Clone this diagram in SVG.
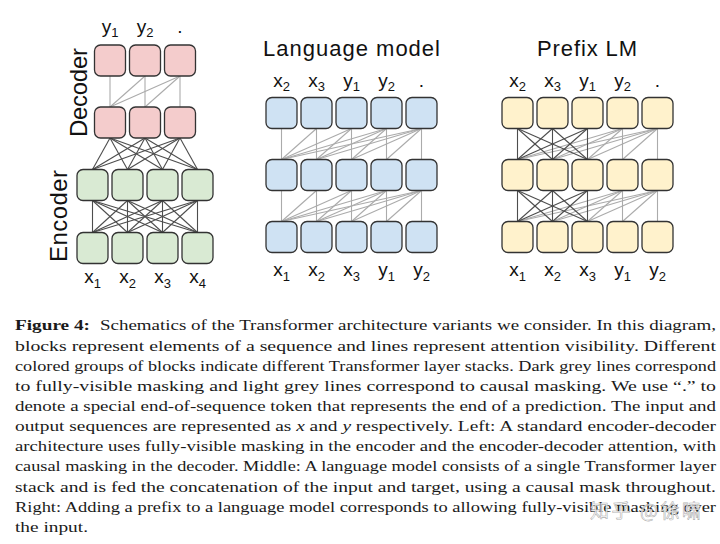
<svg xmlns="http://www.w3.org/2000/svg" width="720" height="544" viewBox="0 0 720 544">
<style>
  .bg{fill:#ffffff}
  .box{stroke:#333333;stroke-width:1.3}
  .dec{fill:#f4cccc}
  .enc{fill:#d9ead3}
  .lm{fill:#cfe2f3}
  .pre{fill:#fff2cc}
  .dk{stroke:#4d4d4d;stroke-width:1.1;fill:none}
  .lt{stroke:#ababab;stroke-width:1.1;fill:none}
  .lab{font-family:"Liberation Sans",Arial,sans-serif;font-size:19px;fill:#111111;text-anchor:middle}
  .sub{font-size:13px}
  .title{font-family:"Liberation Sans",Arial,sans-serif;font-size:22px;fill:#111111;text-anchor:middle}
  .cap{font-family:"Liberation Serif","Times New Roman",serif;font-size:15.5px;fill:#1a1a1a}
  .b{font-weight:bold}
  .i{font-style:italic}
  .wm{font-family:"Noto Sans CJK SC",sans-serif;font-size:19px;fill:#ffffff;fill-opacity:0.85;stroke:#8c8c8c;stroke-width:0.6;stroke-opacity:0.7}
</style>
<rect class="bg" x="0" y="0" width="720" height="544"/>

<g id="connectors">
  <!-- decoder causal self-attention -->
  <line class="lt" x1="110" y1="76" x2="110" y2="107"/>
  <line class="lt" x1="145" y1="76" x2="110" y2="107"/>
  <line class="lt" x1="145" y1="76" x2="145" y2="107"/>
  <line class="lt" x1="180" y1="76" x2="110" y2="107"/>
  <line class="lt" x1="180" y1="76" x2="145" y2="107"/>
  <line class="lt" x1="180" y1="76" x2="180" y2="107"/>
  <!-- encoder-decoder attention -->
  <line class="dk" x1="110" y1="138" x2="92.5" y2="169.5"/>
  <line class="dk" x1="110" y1="138" x2="127.5" y2="169.5"/>
  <line class="dk" x1="110" y1="138" x2="162.5" y2="169.5"/>
  <line class="dk" x1="110" y1="138" x2="197.5" y2="169.5"/>
  <line class="dk" x1="145" y1="138" x2="92.5" y2="169.5"/>
  <line class="dk" x1="145" y1="138" x2="127.5" y2="169.5"/>
  <line class="dk" x1="145" y1="138" x2="162.5" y2="169.5"/>
  <line class="dk" x1="145" y1="138" x2="197.5" y2="169.5"/>
  <line class="dk" x1="180" y1="138" x2="92.5" y2="169.5"/>
  <line class="dk" x1="180" y1="138" x2="127.5" y2="169.5"/>
  <line class="dk" x1="180" y1="138" x2="162.5" y2="169.5"/>
  <line class="dk" x1="180" y1="138" x2="197.5" y2="169.5"/>
  <!-- encoder fully-visible -->
  <line class="dk" x1="92.5" y1="200.5" x2="92.5" y2="232.5"/>
  <line class="dk" x1="92.5" y1="200.5" x2="127.5" y2="232.5"/>
  <line class="dk" x1="92.5" y1="200.5" x2="162.5" y2="232.5"/>
  <line class="dk" x1="92.5" y1="200.5" x2="197.5" y2="232.5"/>
  <line class="dk" x1="127.5" y1="200.5" x2="92.5" y2="232.5"/>
  <line class="dk" x1="127.5" y1="200.5" x2="127.5" y2="232.5"/>
  <line class="dk" x1="127.5" y1="200.5" x2="162.5" y2="232.5"/>
  <line class="dk" x1="127.5" y1="200.5" x2="197.5" y2="232.5"/>
  <line class="dk" x1="162.5" y1="200.5" x2="92.5" y2="232.5"/>
  <line class="dk" x1="162.5" y1="200.5" x2="127.5" y2="232.5"/>
  <line class="dk" x1="162.5" y1="200.5" x2="162.5" y2="232.5"/>
  <line class="dk" x1="162.5" y1="200.5" x2="197.5" y2="232.5"/>
  <line class="dk" x1="197.5" y1="200.5" x2="92.5" y2="232.5"/>
  <line class="dk" x1="197.5" y1="200.5" x2="127.5" y2="232.5"/>
  <line class="dk" x1="197.5" y1="200.5" x2="162.5" y2="232.5"/>
  <line class="dk" x1="197.5" y1="200.5" x2="197.5" y2="232.5"/>

  <!-- language model, top -> middle -->
  <line class="lt" x1="281.5" y1="128.5" x2="281.5" y2="159.5"/>
  <line class="lt" x1="316.5" y1="128.5" x2="281.5" y2="159.5"/>
  <line class="lt" x1="316.5" y1="128.5" x2="316.5" y2="159.5"/>
  <line class="lt" x1="351.5" y1="128.5" x2="281.5" y2="159.5"/>
  <line class="lt" x1="351.5" y1="128.5" x2="316.5" y2="159.5"/>
  <line class="lt" x1="351.5" y1="128.5" x2="351.5" y2="159.5"/>
  <line class="lt" x1="386.5" y1="128.5" x2="281.5" y2="159.5"/>
  <line class="lt" x1="386.5" y1="128.5" x2="316.5" y2="159.5"/>
  <line class="lt" x1="386.5" y1="128.5" x2="351.5" y2="159.5"/>
  <line class="lt" x1="386.5" y1="128.5" x2="386.5" y2="159.5"/>
  <line class="lt" x1="421.5" y1="128.5" x2="281.5" y2="159.5"/>
  <line class="lt" x1="421.5" y1="128.5" x2="316.5" y2="159.5"/>
  <line class="lt" x1="421.5" y1="128.5" x2="351.5" y2="159.5"/>
  <line class="lt" x1="421.5" y1="128.5" x2="386.5" y2="159.5"/>
  <line class="lt" x1="421.5" y1="128.5" x2="421.5" y2="159.5"/>
  <!-- language model, middle -> bottom -->
  <line class="lt" x1="281.5" y1="190.5" x2="281.5" y2="221.5"/>
  <line class="lt" x1="316.5" y1="190.5" x2="281.5" y2="221.5"/>
  <line class="lt" x1="316.5" y1="190.5" x2="316.5" y2="221.5"/>
  <line class="lt" x1="351.5" y1="190.5" x2="281.5" y2="221.5"/>
  <line class="lt" x1="351.5" y1="190.5" x2="316.5" y2="221.5"/>
  <line class="lt" x1="351.5" y1="190.5" x2="351.5" y2="221.5"/>
  <line class="lt" x1="386.5" y1="190.5" x2="281.5" y2="221.5"/>
  <line class="lt" x1="386.5" y1="190.5" x2="316.5" y2="221.5"/>
  <line class="lt" x1="386.5" y1="190.5" x2="351.5" y2="221.5"/>
  <line class="lt" x1="386.5" y1="190.5" x2="386.5" y2="221.5"/>
  <line class="lt" x1="421.5" y1="190.5" x2="281.5" y2="221.5"/>
  <line class="lt" x1="421.5" y1="190.5" x2="316.5" y2="221.5"/>
  <line class="lt" x1="421.5" y1="190.5" x2="351.5" y2="221.5"/>
  <line class="lt" x1="421.5" y1="190.5" x2="386.5" y2="221.5"/>
  <line class="lt" x1="421.5" y1="190.5" x2="421.5" y2="221.5"/>

  <!-- prefix LM, top -> middle: causal part -->
  <line class="lt" x1="622.5" y1="128.5" x2="517.5" y2="159.5"/>
  <line class="lt" x1="622.5" y1="128.5" x2="552.5" y2="159.5"/>
  <line class="lt" x1="622.5" y1="128.5" x2="587.5" y2="159.5"/>
  <line class="lt" x1="622.5" y1="128.5" x2="622.5" y2="159.5"/>
  <line class="lt" x1="657.5" y1="128.5" x2="517.5" y2="159.5"/>
  <line class="lt" x1="657.5" y1="128.5" x2="552.5" y2="159.5"/>
  <line class="lt" x1="657.5" y1="128.5" x2="587.5" y2="159.5"/>
  <line class="lt" x1="657.5" y1="128.5" x2="622.5" y2="159.5"/>
  <line class="lt" x1="657.5" y1="128.5" x2="657.5" y2="159.5"/>
  <!-- prefix LM, top -> middle: fully-visible prefix -->
  <line class="dk" x1="517.5" y1="128.5" x2="517.5" y2="159.5"/>
  <line class="dk" x1="517.5" y1="128.5" x2="552.5" y2="159.5"/>
  <line class="dk" x1="517.5" y1="128.5" x2="587.5" y2="159.5"/>
  <line class="dk" x1="552.5" y1="128.5" x2="517.5" y2="159.5"/>
  <line class="dk" x1="552.5" y1="128.5" x2="552.5" y2="159.5"/>
  <line class="dk" x1="552.5" y1="128.5" x2="587.5" y2="159.5"/>
  <line class="dk" x1="587.5" y1="128.5" x2="517.5" y2="159.5"/>
  <line class="dk" x1="587.5" y1="128.5" x2="552.5" y2="159.5"/>
  <line class="dk" x1="587.5" y1="128.5" x2="587.5" y2="159.5"/>
  <!-- prefix LM, middle -> bottom: causal part -->
  <line class="lt" x1="622.5" y1="190.5" x2="517.5" y2="221.5"/>
  <line class="lt" x1="622.5" y1="190.5" x2="552.5" y2="221.5"/>
  <line class="lt" x1="622.5" y1="190.5" x2="587.5" y2="221.5"/>
  <line class="lt" x1="622.5" y1="190.5" x2="622.5" y2="221.5"/>
  <line class="lt" x1="657.5" y1="190.5" x2="517.5" y2="221.5"/>
  <line class="lt" x1="657.5" y1="190.5" x2="552.5" y2="221.5"/>
  <line class="lt" x1="657.5" y1="190.5" x2="587.5" y2="221.5"/>
  <line class="lt" x1="657.5" y1="190.5" x2="622.5" y2="221.5"/>
  <line class="lt" x1="657.5" y1="190.5" x2="657.5" y2="221.5"/>
  <!-- prefix LM, middle -> bottom: fully-visible prefix -->
  <line class="dk" x1="517.5" y1="190.5" x2="517.5" y2="221.5"/>
  <line class="dk" x1="517.5" y1="190.5" x2="552.5" y2="221.5"/>
  <line class="dk" x1="517.5" y1="190.5" x2="587.5" y2="221.5"/>
  <line class="dk" x1="552.5" y1="190.5" x2="517.5" y2="221.5"/>
  <line class="dk" x1="552.5" y1="190.5" x2="552.5" y2="221.5"/>
  <line class="dk" x1="552.5" y1="190.5" x2="587.5" y2="221.5"/>
  <line class="dk" x1="587.5" y1="190.5" x2="517.5" y2="221.5"/>
  <line class="dk" x1="587.5" y1="190.5" x2="552.5" y2="221.5"/>
  <line class="dk" x1="587.5" y1="190.5" x2="587.5" y2="221.5"/>
</g>

<!-- Encoder-decoder -->
<g id="dec-top-1"><rect class="box dec" x="94.5" y="45" width="31" height="31" rx="6"/></g>
<g id="dec-top-2"><rect class="box dec" x="129.5" y="45" width="31" height="31" rx="6"/></g>
<g id="dec-top-3"><rect class="box dec" x="164.5" y="45" width="31" height="31" rx="6"/></g>
<g id="dec-bot-1"><rect class="box dec" x="94.5" y="107" width="31" height="31" rx="6"/></g>
<g id="dec-bot-2"><rect class="box dec" x="129.5" y="107" width="31" height="31" rx="6"/></g>
<g id="dec-bot-3"><rect class="box dec" x="164.5" y="107" width="31" height="31" rx="6"/></g>
<g id="enc-top-1"><rect class="box enc" x="77" y="169.5" width="31" height="31" rx="6"/></g>
<g id="enc-top-2"><rect class="box enc" x="112" y="169.5" width="31" height="31" rx="6"/></g>
<g id="enc-top-3"><rect class="box enc" x="147" y="169.5" width="31" height="31" rx="6"/></g>
<g id="enc-top-4"><rect class="box enc" x="182" y="169.5" width="31" height="31" rx="6"/></g>
<g id="enc-bot-1"><rect class="box enc" x="77" y="232.5" width="31" height="31" rx="6"/></g>
<g id="enc-bot-2"><rect class="box enc" x="112" y="232.5" width="31" height="31" rx="6"/></g>
<g id="enc-bot-3"><rect class="box enc" x="147" y="232.5" width="31" height="31" rx="6"/></g>
<g id="enc-bot-4"><rect class="box enc" x="182" y="232.5" width="31" height="31" rx="6"/></g>
<g id="encdec-labels">
  <text class="title" transform="translate(87,92.5) rotate(-90)" textLength="89" style="font-size:24px">Decoder</text>
  <text class="title" transform="translate(67,216) rotate(-90)" textLength="92" style="font-size:24px">Encoder</text>
  <text class="lab" x="110" y="32.7">y<tspan class="sub" dy="4.5">1</tspan></text>
  <text class="lab" x="145" y="32.7">y<tspan class="sub" dy="4.5">2</tspan></text>
  <text class="lab" x="180" y="32.7">.</text>
  <text class="lab" x="92.5" y="283">x<tspan class="sub" dy="4.5">1</tspan></text>
  <text class="lab" x="127.5" y="283">x<tspan class="sub" dy="4.5">2</tspan></text>
  <text class="lab" x="162.5" y="283">x<tspan class="sub" dy="4.5">3</tspan></text>
  <text class="lab" x="197.5" y="283">x<tspan class="sub" dy="4.5">4</tspan></text>
</g>

<!-- Language model -->
<g id="lm-top-1"><rect class="box lm" x="266" y="97.5" width="31" height="31" rx="6"/></g>
<g id="lm-top-2"><rect class="box lm" x="301" y="97.5" width="31" height="31" rx="6"/></g>
<g id="lm-top-3"><rect class="box lm" x="336" y="97.5" width="31" height="31" rx="6"/></g>
<g id="lm-top-4"><rect class="box lm" x="371" y="97.5" width="31" height="31" rx="6"/></g>
<g id="lm-top-5"><rect class="box lm" x="406" y="97.5" width="31" height="31" rx="6"/></g>
<g id="lm-mid-1"><rect class="box lm" x="266" y="159.5" width="31" height="31" rx="6"/></g>
<g id="lm-mid-2"><rect class="box lm" x="301" y="159.5" width="31" height="31" rx="6"/></g>
<g id="lm-mid-3"><rect class="box lm" x="336" y="159.5" width="31" height="31" rx="6"/></g>
<g id="lm-mid-4"><rect class="box lm" x="371" y="159.5" width="31" height="31" rx="6"/></g>
<g id="lm-mid-5"><rect class="box lm" x="406" y="159.5" width="31" height="31" rx="6"/></g>
<g id="lm-bot-1"><rect class="box lm" x="266" y="221.5" width="31" height="31" rx="6"/></g>
<g id="lm-bot-2"><rect class="box lm" x="301" y="221.5" width="31" height="31" rx="6"/></g>
<g id="lm-bot-3"><rect class="box lm" x="336" y="221.5" width="31" height="31" rx="6"/></g>
<g id="lm-bot-4"><rect class="box lm" x="371" y="221.5" width="31" height="31" rx="6"/></g>
<g id="lm-bot-5"><rect class="box lm" x="406" y="221.5" width="31" height="31" rx="6"/></g>
<g id="lm-labels">
  <text class="title" x="351.5" y="55.5" textLength="177">Language model</text>
  <text class="lab" x="281.5" y="86.5">x<tspan class="sub" dy="4.5">2</tspan></text>
  <text class="lab" x="316.5" y="86.5">x<tspan class="sub" dy="4.5">3</tspan></text>
  <text class="lab" x="351.5" y="86.5">y<tspan class="sub" dy="4.5">1</tspan></text>
  <text class="lab" x="386.5" y="86.5">y<tspan class="sub" dy="4.5">2</tspan></text>
  <text class="lab" x="421.5" y="86.5">.</text>
  <text class="lab" x="281.5" y="276">x<tspan class="sub" dy="4.5">1</tspan></text>
  <text class="lab" x="316.5" y="276">x<tspan class="sub" dy="4.5">2</tspan></text>
  <text class="lab" x="351.5" y="276">x<tspan class="sub" dy="4.5">3</tspan></text>
  <text class="lab" x="386.5" y="276">y<tspan class="sub" dy="4.5">1</tspan></text>
  <text class="lab" x="421.5" y="276">y<tspan class="sub" dy="4.5">2</tspan></text>
</g>

<!-- Prefix LM -->
<g id="pre-top-1"><rect class="box pre" x="502" y="97.5" width="31" height="31" rx="6"/></g>
<g id="pre-top-2"><rect class="box pre" x="537" y="97.5" width="31" height="31" rx="6"/></g>
<g id="pre-top-3"><rect class="box pre" x="572" y="97.5" width="31" height="31" rx="6"/></g>
<g id="pre-top-4"><rect class="box pre" x="607" y="97.5" width="31" height="31" rx="6"/></g>
<g id="pre-top-5"><rect class="box pre" x="642" y="97.5" width="31" height="31" rx="6"/></g>
<g id="pre-mid-1"><rect class="box pre" x="502" y="159.5" width="31" height="31" rx="6"/></g>
<g id="pre-mid-2"><rect class="box pre" x="537" y="159.5" width="31" height="31" rx="6"/></g>
<g id="pre-mid-3"><rect class="box pre" x="572" y="159.5" width="31" height="31" rx="6"/></g>
<g id="pre-mid-4"><rect class="box pre" x="607" y="159.5" width="31" height="31" rx="6"/></g>
<g id="pre-mid-5"><rect class="box pre" x="642" y="159.5" width="31" height="31" rx="6"/></g>
<g id="pre-bot-1"><rect class="box pre" x="502" y="221.5" width="31" height="31" rx="6"/></g>
<g id="pre-bot-2"><rect class="box pre" x="537" y="221.5" width="31" height="31" rx="6"/></g>
<g id="pre-bot-3"><rect class="box pre" x="572" y="221.5" width="31" height="31" rx="6"/></g>
<g id="pre-bot-4"><rect class="box pre" x="607" y="221.5" width="31" height="31" rx="6"/></g>
<g id="pre-bot-5"><rect class="box pre" x="642" y="221.5" width="31" height="31" rx="6"/></g>
<g id="pre-labels">
  <text class="title" x="587" y="55.5" textLength="100">Prefix LM</text>
  <text class="lab" x="517.5" y="86.5">x<tspan class="sub" dy="4.5">2</tspan></text>
  <text class="lab" x="552.5" y="86.5">x<tspan class="sub" dy="4.5">3</tspan></text>
  <text class="lab" x="587.5" y="86.5">y<tspan class="sub" dy="4.5">1</tspan></text>
  <text class="lab" x="622.5" y="86.5">y<tspan class="sub" dy="4.5">2</tspan></text>
  <text class="lab" x="657.5" y="86.5">.</text>
  <text class="lab" x="517.5" y="276">x<tspan class="sub" dy="4.5">1</tspan></text>
  <text class="lab" x="552.5" y="276">x<tspan class="sub" dy="4.5">2</tspan></text>
  <text class="lab" x="587.5" y="276">x<tspan class="sub" dy="4.5">3</tspan></text>
  <text class="lab" x="622.5" y="276">y<tspan class="sub" dy="4.5">1</tspan></text>
  <text class="lab" x="657.5" y="276">y<tspan class="sub" dy="4.5">2</tspan></text>
</g>

<!-- Caption -->
<g id="caption">
  <text class="cap b" x="15" y="330.3" textLength="75" lengthAdjust="spacingAndGlyphs">Figure 4:</text>
  <text class="cap" x="100" y="330.3" textLength="616" lengthAdjust="spacingAndGlyphs">Schematics of the Transformer architecture variants we consider. In this diagram,</text>
  <text class="cap" x="15" y="350.5" textLength="701" lengthAdjust="spacingAndGlyphs">blocks represent elements of a sequence and lines represent attention visibility. Different</text>
  <text class="cap" x="15" y="370.6" textLength="701" lengthAdjust="spacingAndGlyphs">colored groups of blocks indicate different Transformer layer stacks. Dark grey lines correspond</text>
  <text class="cap" x="15" y="390.8" textLength="701" lengthAdjust="spacingAndGlyphs">to fully-visible masking and light grey lines correspond to causal masking. We use &#8220;.&#8221; to</text>
  <text class="cap" x="15" y="410.9" textLength="701" lengthAdjust="spacingAndGlyphs">denote a special end-of-sequence token that represents the end of a prediction. The input and</text>
  <text class="cap" x="15" y="431.1" textLength="701" lengthAdjust="spacingAndGlyphs">output sequences are represented as <tspan class="i">x</tspan> and <tspan class="i">y</tspan> respectively. Left: A standard encoder-decoder</text>
  <text class="cap" x="15" y="451.2" textLength="701" lengthAdjust="spacingAndGlyphs">architecture uses fully-visible masking in the encoder and the encoder-decoder attention, with</text>
  <text class="cap" x="15" y="471.4" textLength="701" lengthAdjust="spacingAndGlyphs">causal masking in the decoder. Middle: A language model consists of a single Transformer layer</text>
  <text class="cap" x="15" y="491.5" textLength="701" lengthAdjust="spacingAndGlyphs">stack and is fed the concatenation of the input and target, using a causal mask throughout.</text>
  <text class="cap" x="15" y="511.7" textLength="701" lengthAdjust="spacingAndGlyphs">Right: Adding a prefix to a language model corresponds to allowing fully-visible masking over</text>
  <text class="cap" x="15" y="531.8" textLength="73" lengthAdjust="spacingAndGlyphs">the input.</text>
</g>

<g id="watermark">
  <text class="wm" x="590" y="518" textLength="111" lengthAdjust="spacing">知乎 @徐啸</text>
</g>
</svg>
